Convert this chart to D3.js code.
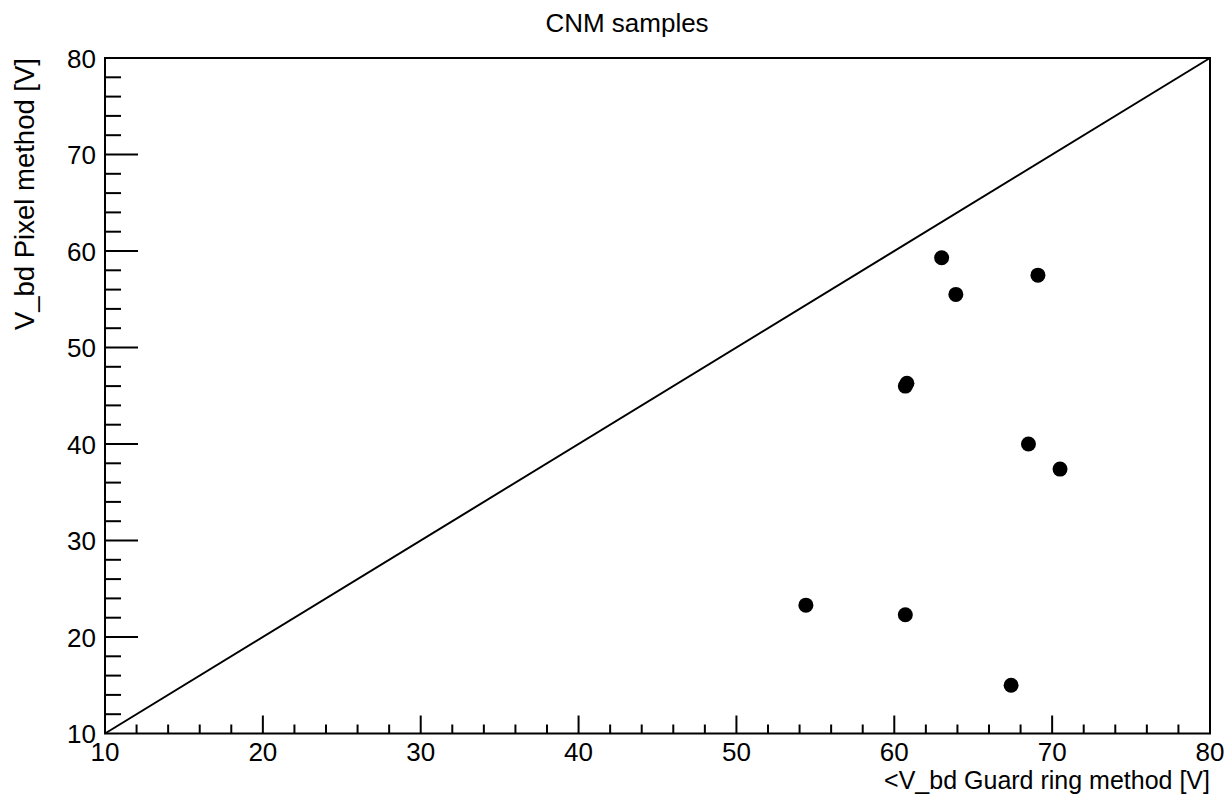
<!DOCTYPE html>
<html>
<head>
<meta charset="utf-8">
<script src="https://cdn.jsdelivr.net/npm/d3@7"></script>
<style>
  html, body { margin: 0; padding: 0; background: #fff; }
  svg text { font-family: "Liberation Sans", Arial, Helvetica, sans-serif; fill: #000; }
</style>
</head>
<body>
<svg id="chart" width="1227" height="796"></svg>
<script>
// Breakdown voltage per sample: guard-ring method vs pixel method
const guardRingV = [63.0, 63.9, 69.1, 60.8, 60.7, 68.5, 70.5, 54.4, 60.7, 67.4];
const pixelV     = [59.3, 55.5, 57.5, 46.3, 46.0, 40.0, 37.4, 23.3, 22.3, 15.0];
const xTicks = [10, 20, 30, 40, 50, 60, 70, 80];
const yTicks = [10, 20, 30, 40, 50, 60, 70, 80];
const axisRange = [10, 80];

const svg = d3.select("#chart");
const padL = 105, padR = 1210, padT = 58, padB = 733.5;

const x = d3.scaleLinear().domain(axisRange).range([padL, padR]);
const y = d3.scaleLinear().domain(axisRange).range([padB, padT]);

// frame
svg.append("rect")
  .attr("x", padL).attr("y", padT)
  .attr("width", padR - padL).attr("height", padB - padT)
  .attr("fill", "none").attr("stroke", "#000").attr("stroke-width", 2);

// minor ticks every 2 V, drawn inside the frame
const minorX = d3.range(12, 80, 2).filter(v => v % 10 !== 0);
const minorY = d3.range(12, 80, 2).filter(v => v % 10 !== 0);

const ticks = svg.append("g").attr("stroke", "#000").attr("stroke-width", 2);
ticks.selectAll(".xmaj").data(xTicks.slice(1, -1)).join("line")
  .attr("x1", d => x(d)).attr("x2", d => x(d))
  .attr("y1", padB).attr("y2", padB - 18);
ticks.selectAll(".xmin").data(minorX).join("line")
  .attr("x1", d => x(d)).attr("x2", d => x(d))
  .attr("y1", padB).attr("y2", padB - 9);
ticks.selectAll(".ymaj").data(yTicks.slice(1, -1)).join("line")
  .attr("y1", d => y(d)).attr("y2", d => y(d))
  .attr("x1", padL).attr("x2", padL + 33);
ticks.selectAll(".ymin").data(minorY).join("line")
  .attr("y1", d => y(d)).attr("y2", d => y(d))
  .attr("x1", padL).attr("x2", padL + 16);

// tick labels
svg.append("g").selectAll("text").data(xTicks).join("text")
  .attr("x", d => x(d)).attr("y", 761)
  .attr("text-anchor", "middle").attr("font-size", 26)
  .text(d => d);
svg.append("g").selectAll("text").data(yTicks).join("text")
  .attr("x", 96).attr("y", d => y(d) + 9.5)
  .attr("text-anchor", "end").attr("font-size", 26)
  .text(d => d);

// identity line
svg.append("line")
  .attr("x1", x(10)).attr("y1", y(10))
  .attr("x2", x(80)).attr("y2", y(80))
  .attr("stroke", "#000").attr("stroke-width", 2);

// samples
svg.append("g").selectAll("circle").data(guardRingV.map((g, i) => [g, pixelV[i]])).join("circle")
  .attr("cx", d => x(d[0])).attr("cy", d => y(d[1]))
  .attr("r", 7.5).attr("fill", "#000");

// titles
svg.append("text").attr("x", 627).attr("y", 32)
  .attr("text-anchor", "middle").attr("font-size", 26)
  .text("CNM samples");
svg.append("text").attr("x", padR).attr("y", 788.5)
  .attr("text-anchor", "end").attr("font-size", 25)
  .text("<V_bd Guard ring method [V]");
svg.append("text")
  .attr("transform", `translate(34, ${padT}) rotate(-90)`)
  .attr("text-anchor", "end").attr("font-size", 27.5)
  .text("V_bd Pixel method [V]");
</script>
</body>
</html>
